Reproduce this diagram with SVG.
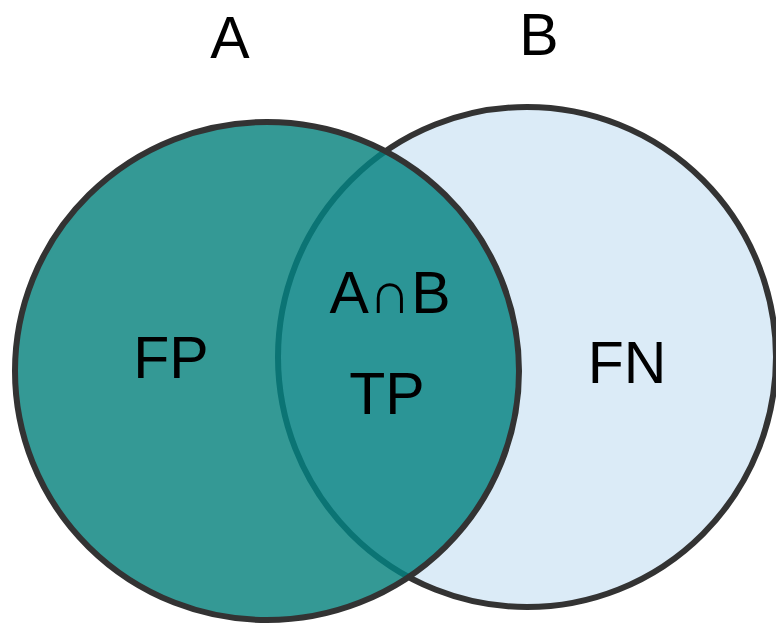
<svg xmlns="http://www.w3.org/2000/svg" width="776" height="625" viewBox="0 0 776 625">
<style>
.lbl{font-family:"Liberation Sans",Arial,sans-serif;font-size:59px;fill:#000;text-anchor:middle}
</style>
<defs>
<clipPath id="clipA"><ellipse cx="267" cy="371" rx="252" ry="249"/></clipPath>
</defs>
<rect width="776" height="625" fill="#fff"/>
<g id="setB">
<ellipse cx="527" cy="357" rx="249" ry="250" fill="#dbebf7" stroke="#333" stroke-width="6"/>
</g>
<g id="setA">
<ellipse cx="267" cy="371" rx="252" ry="249" fill="#349995"/>
</g>
<g id="intersection">
<ellipse cx="527" cy="357" rx="249" ry="250" fill="#2b9596" clip-path="url(#clipA)"/>
<ellipse cx="527" cy="357" rx="249" ry="250" fill="none" stroke="#0b7474" stroke-width="6" clip-path="url(#clipA)"/>
</g>
<g id="outlineA">
<ellipse cx="267" cy="371" rx="252" ry="249" fill="none" stroke="#333" stroke-width="6"/>
</g>
<g id="connectors"></g>
<g id="labels">
<text class="lbl" x="230" y="58">A</text>
<text class="lbl" x="539" y="55">B</text>
<text class="lbl" x="171" y="378">FP</text>
<text class="lbl" x="390" y="313">A∩B</text>
<text class="lbl" x="387" y="414">TP</text>
<text class="lbl" x="627" y="383">FN</text>
</g>
</svg>
